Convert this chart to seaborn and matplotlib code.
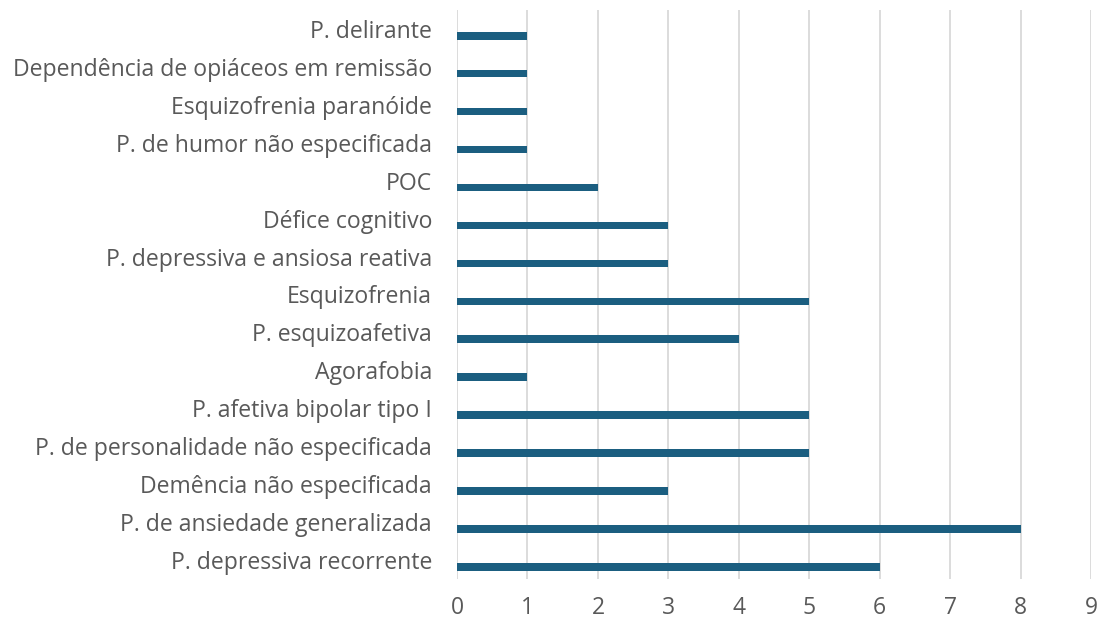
import matplotlib
matplotlib.use("Agg")
import matplotlib.pyplot as plt
import seaborn as sns
import pandas as pd

categories = [
    "P. delirante",
    "Dependência de opiáceos em remissão",
    "Esquizofrenia paranóide",
    "P. de humor não especificada",
    "POC",
    "Défice cognitivo",
    "P. depressiva e ansiosa reativa",
    "Esquizofrenia",
    "P. esquizoafetiva",
    "Agorafobia",
    "P. afetiva bipolar tipo I",
    "P. de personalidade não especificada",
    "Demência não especificada",
    "P. de ansiedade generalizada",
    "P. depressiva recorrente",
]
values = [1, 1, 1, 1, 2, 3, 3, 5, 4, 1, 5, 5, 3, 8, 6]
x_ticks = list(range(0, 10))

df = pd.DataFrame({"categoria": categories, "valor": values})

sns.set_theme(style="white")
plt.rcParams["font.family"] = ["Open Sans", "DejaVu Sans"]

fig = plt.figure(figsize=(11, 6.23), dpi=100)
ax = fig.add_axes([0.4155, 0.0706, 0.5764, 0.9134])

BAR_COLOR = "#1B5E80"
TEXT_COLOR = "#595959"

sns.barplot(data=df, y="categoria", x="valor", orient="h", color=BAR_COLOR,
            width=0.2, ax=ax, saturation=1)

# shift bars toward the bottom of each category band (Excel-like offset)
for p in ax.patches:
    p.set_y(p.get_y() + 0.18)
    p.set_edgecolor("none")

ax.set_xlim(0, 9)
ax.set_ylim(len(categories) - 0.5, -0.5)
ax.set_xticks(x_ticks)
ax.set_xticklabels([str(t) for t in x_ticks])
ax.xaxis.grid(True, color="#D9D9D9", linewidth=1.3)
ax.set_axisbelow(True)
ax.set_xlabel("")
ax.set_ylabel("")
for s in ax.spines.values():
    s.set_visible(False)
ax.tick_params(axis="x", length=0, pad=12, labelsize=16.5, labelcolor=TEXT_COLOR)
ax.tick_params(axis="y", length=0, pad=18, labelsize=16.6, labelcolor=TEXT_COLOR)
for lbl in ax.get_yticklabels():
    lbl.set_verticalalignment("center_baseline")

fig.savefig("out.png", dpi=100)
